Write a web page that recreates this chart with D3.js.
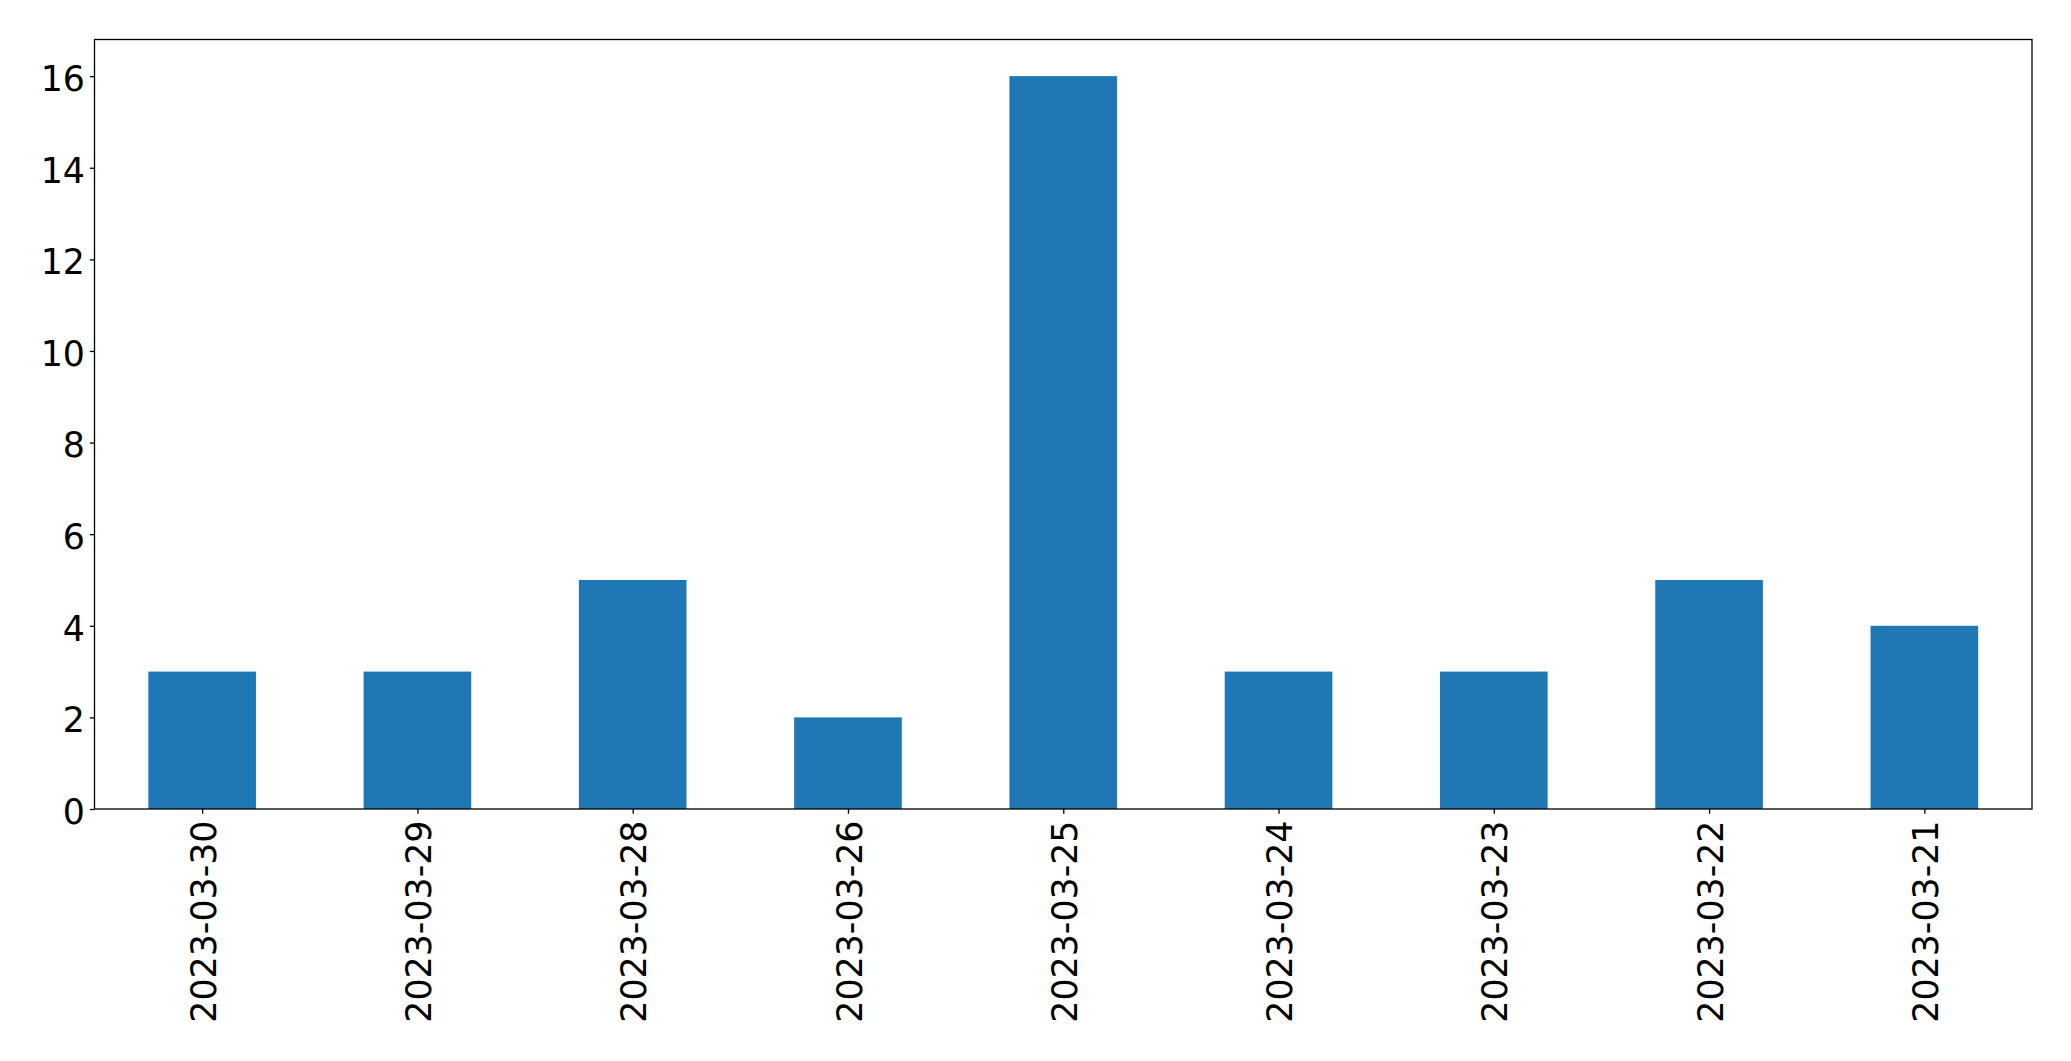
<!DOCTYPE html>
<html><head><meta charset="utf-8">
<script src="https://cdn.jsdelivr.net/npm/d3@7"></script>
<style>html,body{margin:0;padding:0;background:#fff;}svg{display:block;}</style>
</head><body>
<script>
const categories = ["2023-03-30","2023-03-29","2023-03-28","2023-03-26","2023-03-25","2023-03-24","2023-03-23","2023-03-22","2023-03-21"];
const values = [3,3,5,2,16,3,3,5,4];
const yTicks = [0,2,4,6,8,10,12,14,16];

const W = 2071, H = 1061;
const m = {left: 94.5, right: 2032, top: 39.5, bottom: 809};
const fontSize = 34.8;
const svg = d3.select("body").append("svg").attr("width", W).attr("height", H);

const x = d3.scaleLinear().domain([-0.5, categories.length - 0.5]).range([m.left, m.right]);
const y = d3.scaleLinear().domain([0, 16.8]).range([m.bottom, m.top]);

svg.append("g").selectAll("rect").data(values).join("rect")
  .attr("x", (d,i) => x(i - 0.25))
  .attr("width", (d,i) => x(i + 0.25) - x(i - 0.25))
  .attr("y", d => y(d))
  .attr("height", d => y(0) - y(d))
  .attr("fill", "#1f77b4");

const yAxis = svg.append("g").attr("transform", `translate(${m.left},0)`)
  .call(d3.axisLeft(y).tickValues(yTicks).tickFormat(d3.format("d")).tickSize(4.7).tickPadding(4.8));
const xAxis = svg.append("g").attr("transform", `translate(0,${m.bottom})`)
  .call(d3.axisBottom(x).tickValues(d3.range(categories.length)).tickFormat(i => categories[i]).tickSize(4.7));

[yAxis, xAxis].forEach(g => {
  g.select(".domain").remove();
  g.selectAll(".tick line").attr("stroke", "#000").attr("stroke-width", 1.3);
  g.selectAll("text").attr("font-family", "DejaVu Sans").attr("font-size", fontSize).attr("fill", "#000");
});
yAxis.selectAll("text").attr("dy", "0.41em");
xAxis.selectAll("text")
  .attr("transform", "rotate(-90)")
  .attr("text-anchor", "end")
  .attr("x", -11.5)
  .attr("y", 0)
  .attr("dy", "0.375em");

svg.append("rect").attr("x", m.left).attr("y", m.top)
  .attr("width", m.right - m.left).attr("height", m.bottom - m.top)
  .attr("fill", "none").attr("stroke", "#000").attr("stroke-width", 1.3);
</script>
</body></html>
